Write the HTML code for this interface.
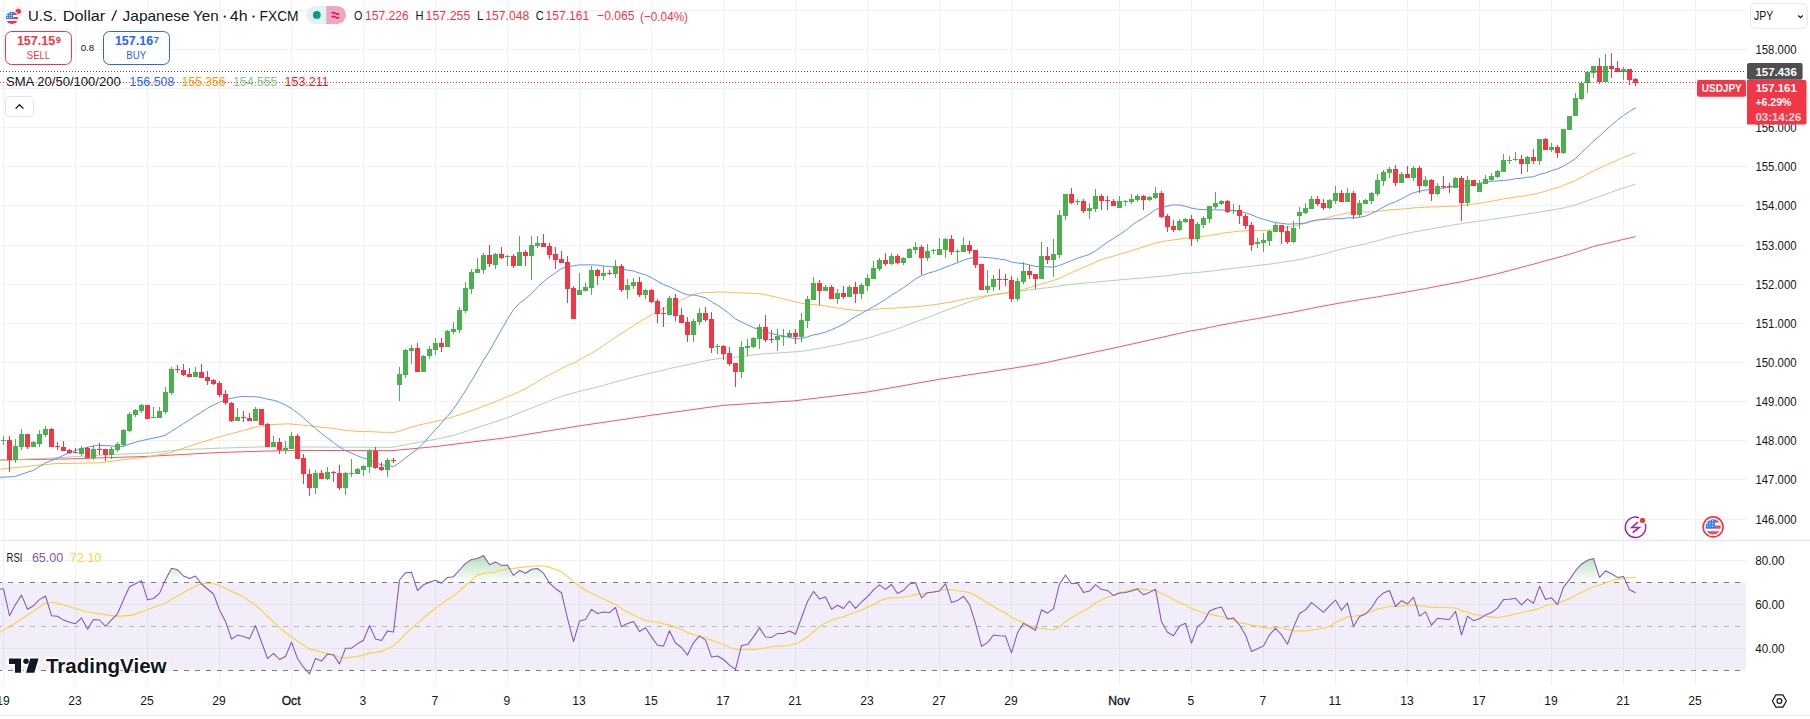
<!DOCTYPE html>
<html><head><meta charset="utf-8">
<style>
html,body{margin:0;padding:0;background:#fff;width:1810px;height:719px;overflow:hidden}
svg{position:absolute;left:0;top:0;display:block}
text{font-family:"Liberation Sans", sans-serif}
</style></head><body>
<svg width="1810" height="719" viewBox="0 0 1810 719">
<path d="M3.5 0V540M3.5 541V686M75.5 0V540M75.5 541V686M147.5 0V540M147.5 541V686M219.5 0V540M219.5 541V686M291.5 0V540M291.5 541V686M363.5 0V540M363.5 541V686M435.5 0V540M435.5 541V686M507.5 0V540M507.5 541V686M579.5 0V540M579.5 541V686M651.5 0V540M651.5 541V686M723.5 0V540M723.5 541V686M795.5 0V540M795.5 541V686M867.5 0V540M867.5 541V686M939.5 0V540M939.5 541V686M1011.5 0V540M1011.5 541V686M1119.5 0V540M1119.5 541V686M1191.5 0V540M1191.5 541V686M1263.5 0V540M1263.5 541V686M1335.5 0V540M1335.5 541V686M1407.5 0V540M1407.5 541V686M1479.5 0V540M1479.5 541V686M1551.5 0V540M1551.5 541V686M1623.5 0V540M1623.5 541V686M1695.5 0V540M1695.5 541V686M0 519.5H1746M0 479.5H1746M0 440.5H1746M0 401.5H1746M0 362.5H1746M0 323.5H1746M0 284.5H1746M0 245.5H1746M0 205.5H1746M0 166.5H1746M0 127.5H1746M0 88.5H1746M0 49.5H1746M0 10.5H1746M0 560.5H1746M0 604.5H1746M0 648.5H1746" stroke="#f1f2f3" stroke-width="1" fill="none"/>
<path d="M0 540.5H1810" stroke="#e0e3eb" stroke-width="1"/>
<path d="M0 715.5H1810" stroke="#e8e8e8" stroke-width="1"/>
<path d="M0.0 460.0 L69.6 458.9 L147.5 456.4 L219.3 452.5 L265.7 451.1 L294.5 450.4 L392.0 450.7 L435.0 446.6 L506.6 437.7 L579.9 425.8 L650.6 415.4 L722.5 405.4 L794.4 400.8 L867.3 392.0 L939.2 379.3 L1011.1 368.5 L1040.0 363.8 L1119.6 346.8 L1191.4 330.7 L1197.5 329.8 L1203.5 328.7 L1209.5 327.4 L1215.5 326.2 L1221.5 325.0 L1227.5 323.9 L1233.5 322.7 L1239.5 321.6 L1245.5 320.6 L1251.5 319.6 L1257.5 318.6 L1263.5 317.5 L1269.5 316.4 L1275.5 315.3 L1281.5 314.2 L1287.5 313.1 L1293.5 312.0 L1299.5 310.8 L1305.5 309.6 L1311.5 308.3 L1317.5 307.1 L1323.5 306.0 L1329.5 304.9 L1335.5 303.8 L1341.5 302.8 L1347.5 301.7 L1353.5 300.7 L1359.5 299.7 L1365.5 298.7 L1371.5 297.8 L1377.5 296.9 L1383.5 295.8 L1389.5 294.8 L1395.5 293.9 L1401.5 292.8 L1407.5 291.8 L1413.5 290.7 L1419.5 289.7 L1425.5 288.6 L1431.5 287.4 L1437.5 286.3 L1443.5 285.1 L1449.5 284.0 L1455.5 282.8 L1461.5 281.7 L1467.5 280.4 L1473.5 279.1 L1479.5 277.8 L1485.5 276.4 L1491.5 275.1 L1497.5 273.7 L1503.5 272.1 L1509.5 270.5 L1515.5 268.9 L1521.5 267.3 L1527.5 265.7 L1533.5 264.2 L1539.5 262.4 L1545.5 260.8 L1551.5 259.2 L1557.5 257.6 L1563.5 255.9 L1569.5 254.2 L1575.5 252.4 L1581.5 250.5 L1587.5 248.5 L1593.5 246.5 L1599.5 245.1 L1605.5 243.7 L1611.5 242.3 L1617.5 240.8 L1623.5 239.3 L1629.5 238.0 L1635.5 236.7" stroke="#f65660" stroke-width="1.0" fill="none" stroke-linejoin="round"/>
<path d="M0.0 460.1 L55.6 457.9 L111.0 454.5 L150.0 453.0 L180.0 449.8 L220.6 448.1 L261.0 446.9 L300.0 447.0 L392.0 447.3 L435.0 439.4 L453.0 435.6 L506.7 418.0 L551.7 400.0 L562.4 396.1 L578.7 391.5 L597.5 387.1 L603.5 385.4 L609.5 383.6 L615.5 381.8 L621.5 380.3 L627.5 378.7 L633.5 377.1 L639.5 375.7 L645.5 374.3 L651.5 372.9 L657.5 371.5 L663.5 370.2 L669.5 368.6 L675.5 367.2 L681.5 366.0 L687.5 364.8 L693.5 363.5 L699.5 362.1 L705.5 360.8 L711.5 359.7 L717.5 358.8 L723.5 358.0 L729.5 357.5 L735.5 357.1 L741.5 356.5 L747.5 355.8 L753.5 355.0 L759.5 354.2 L765.5 353.7 L771.5 353.4 L777.5 353.0 L783.5 352.6 L789.5 352.2 L795.5 351.8 L801.5 351.3 L807.5 350.5 L813.5 349.4 L819.5 348.4 L825.5 347.2 L831.5 346.0 L837.5 344.8 L843.5 343.6 L849.5 342.2 L855.5 341.1 L861.5 339.7 L867.5 338.0 L873.5 336.3 L879.5 334.4 L885.5 332.5 L891.5 330.7 L897.5 328.8 L903.5 326.6 L909.5 324.2 L915.5 321.9 L921.5 319.7 L927.5 317.5 L933.5 315.3 L939.5 312.9 L945.5 310.6 L951.5 308.4 L957.5 306.2 L963.5 304.0 L969.5 302.0 L975.5 299.9 L981.5 298.1 L987.5 296.4 L993.5 294.6 L999.5 293.6 L1005.5 292.9 L1011.5 292.4 L1017.5 291.5 L1023.5 290.7 L1029.5 289.9 L1035.5 289.3 L1041.5 288.4 L1047.5 287.7 L1053.5 286.9 L1059.5 286.0 L1065.5 285.0 L1071.5 284.4 L1077.5 283.7 L1083.5 283.2 L1089.5 282.7 L1095.5 282.1 L1101.5 281.5 L1107.5 281.0 L1113.5 280.4 L1119.5 279.9 L1125.5 279.3 L1131.5 278.8 L1137.5 278.4 L1143.5 277.9 L1149.5 277.3 L1155.5 276.7 L1161.5 276.2 L1167.5 275.6 L1173.5 274.7 L1179.5 274.0 L1185.5 273.3 L1191.5 273.0 L1197.5 272.5 L1203.5 271.9 L1209.5 271.3 L1215.5 270.6 L1221.5 269.7 L1227.5 269.0 L1233.5 268.3 L1239.5 267.5 L1245.5 266.9 L1251.5 266.3 L1257.5 265.6 L1263.5 264.8 L1269.5 264.2 L1275.5 263.3 L1281.5 262.3 L1287.5 261.4 L1293.5 260.5 L1299.5 259.5 L1305.5 258.4 L1311.5 256.9 L1317.5 255.5 L1323.5 254.0 L1329.5 252.4 L1335.5 250.6 L1341.5 249.1 L1347.5 247.6 L1353.5 246.4 L1359.5 245.1 L1365.5 243.7 L1371.5 242.3 L1377.5 240.7 L1383.5 239.1 L1389.5 237.4 L1395.5 235.9 L1401.5 234.4 L1407.5 233.2 L1413.5 232.0 L1419.5 231.0 L1425.5 229.9 L1431.5 228.9 L1437.5 227.8 L1443.5 226.7 L1449.5 225.7 L1455.5 224.5 L1461.5 223.7 L1467.5 222.7 L1473.5 221.9 L1479.5 221.1 L1485.5 220.3 L1491.5 219.5 L1497.5 218.6 L1503.5 217.6 L1509.5 216.7 L1515.5 215.8 L1521.5 214.9 L1527.5 213.9 L1533.5 213.1 L1539.5 212.0 L1545.5 211.1 L1551.5 210.0 L1557.5 209.0 L1563.5 207.9 L1569.5 206.5 L1575.5 204.9 L1581.5 202.8 L1587.5 200.6 L1593.5 198.5 L1599.5 196.5 L1605.5 194.4 L1611.5 192.1 L1617.5 190.0 L1623.5 188.0 L1629.5 186.0 L1635.5 184.1" stroke="#a8d6aa" stroke-width="1.0" fill="none" stroke-linejoin="round"/>
<path d="M0.0 469.2 L33.4 465.7 L55.6 463.6 L77.9 463.2 L100.0 462.8 L122.4 459.8 L147.5 457.0 L170.7 452.5 L195.0 444.3 L219.3 436.9 L243.6 430.4 L258.0 426.4 L265.7 424.9 L287.8 423.8 L297.5 424.6 L303.5 425.3 L309.5 425.8 L315.5 426.4 L321.5 427.3 L327.5 427.8 L333.5 428.4 L339.5 429.5 L345.5 430.4 L351.5 430.9 L357.5 431.3 L363.5 431.6 L369.5 431.6 L375.5 431.9 L381.5 432.3 L387.5 432.3 L393.5 432.6 L399.5 431.1 L405.5 429.0 L411.5 427.0 L417.5 425.5 L423.5 424.0 L429.5 422.7 L435.5 421.4 L441.5 420.2 L447.5 418.5 L453.5 416.7 L459.5 414.7 L465.5 412.6 L471.5 410.7 L477.5 408.6 L483.5 406.2 L489.5 404.0 L495.5 401.6 L501.5 399.2 L507.5 396.7 L513.5 394.4 L519.5 391.5 L525.5 388.6 L531.5 385.1 L537.5 381.6 L543.5 378.1 L549.5 374.8 L555.5 371.8 L561.5 368.6 L567.5 365.4 L573.5 363.0 L579.5 359.8 L585.5 356.5 L591.5 353.2 L597.5 349.6 L603.5 345.5 L609.5 341.3 L615.5 337.1 L621.5 333.3 L627.5 329.6 L633.5 325.8 L639.5 321.9 L645.5 318.3 L651.5 314.8 L657.5 311.7 L663.5 308.7 L669.5 305.7 L675.5 302.6 L681.5 299.7 L687.5 297.2 L693.5 294.4 L699.5 293.1 L705.5 292.5 L711.5 292.5 L717.5 292.0 L723.5 292.0 L729.5 292.3 L735.5 292.8 L741.5 292.8 L747.5 293.1 L753.5 293.3 L759.5 293.7 L765.5 294.7 L771.5 296.1 L777.5 297.4 L783.5 299.0 L789.5 300.4 L795.5 302.1 L801.5 303.3 L807.5 304.2 L813.5 304.5 L819.5 305.3 L825.5 305.9 L831.5 307.0 L837.5 308.0 L843.5 309.0 L849.5 309.6 L855.5 310.3 L861.5 310.8 L867.5 310.5 L873.5 309.5 L879.5 308.9 L885.5 308.5 L891.5 308.2 L897.5 307.9 L903.5 307.6 L909.5 307.1 L915.5 306.8 L921.5 306.1 L927.5 305.4 L933.5 304.8 L939.5 303.9 L945.5 302.9 L951.5 301.9 L957.5 300.6 L963.5 299.2 L969.5 298.3 L975.5 297.3 L981.5 296.6 L987.5 295.6 L993.5 294.8 L999.5 294.1 L1005.5 293.3 L1011.5 292.3 L1017.5 291.0 L1023.5 289.4 L1029.5 287.6 L1035.5 285.8 L1041.5 283.9 L1047.5 282.2 L1053.5 280.5 L1059.5 278.3 L1065.5 275.4 L1071.5 272.6 L1077.5 270.0 L1083.5 267.4 L1089.5 264.9 L1095.5 262.1 L1101.5 259.7 L1107.5 257.8 L1113.5 256.2 L1119.5 254.4 L1125.5 252.7 L1131.5 250.7 L1137.5 248.8 L1143.5 246.8 L1149.5 245.0 L1155.5 243.0 L1161.5 241.7 L1167.5 240.6 L1173.5 239.9 L1179.5 239.1 L1185.5 238.2 L1191.5 237.8 L1197.5 237.1 L1203.5 236.3 L1209.5 235.4 L1215.5 234.5 L1221.5 233.4 L1227.5 232.6 L1233.5 231.8 L1239.5 231.1 L1245.5 230.9 L1251.5 230.7 L1257.5 230.6 L1263.5 230.5 L1269.5 230.1 L1275.5 229.3 L1281.5 228.1 L1287.5 227.2 L1293.5 226.2 L1299.5 224.8 L1305.5 223.4 L1311.5 221.4 L1317.5 219.9 L1323.5 218.6 L1329.5 217.1 L1335.5 215.4 L1341.5 214.3 L1347.5 213.0 L1353.5 212.2 L1359.5 211.9 L1365.5 212.1 L1371.5 211.9 L1377.5 211.4 L1383.5 210.7 L1389.5 209.9 L1395.5 209.6 L1401.5 209.1 L1407.5 208.6 L1413.5 207.9 L1419.5 207.6 L1425.5 207.1 L1431.5 207.0 L1437.5 206.8 L1443.5 206.6 L1449.5 206.4 L1455.5 206.1 L1461.5 205.8 L1467.5 204.9 L1473.5 204.0 L1479.5 203.2 L1485.5 202.4 L1491.5 201.2 L1497.5 200.1 L1503.5 198.9 L1509.5 198.0 L1515.5 197.1 L1521.5 196.4 L1527.5 195.3 L1533.5 194.3 L1539.5 192.8 L1545.5 191.2 L1551.5 189.3 L1557.5 187.5 L1563.5 185.3 L1569.5 183.0 L1575.5 180.4 L1581.5 177.5 L1587.5 174.1 L1593.5 170.8 L1599.5 168.2 L1605.5 165.4 L1611.5 162.8 L1617.5 160.1 L1623.5 157.4 L1629.5 155.0 L1635.5 152.8" stroke="#ffb655" stroke-width="1.0" fill="none" stroke-linejoin="round"/>
<path d="M0.0 477.3 L14.5 476.6 L33.4 470.3 L44.5 463.4 L57.9 457.9 L72.3 451.4 L86.8 447.3 L97.9 445.4 L111.3 445.8 L117.5 446.8 L123.5 446.3 L129.5 444.0 L135.5 442.2 L141.5 440.7 L147.5 439.3 L153.5 438.1 L159.5 436.9 L165.5 435.1 L171.5 431.2 L177.5 427.4 L183.5 423.6 L189.5 419.8 L195.5 415.7 L201.5 412.2 L207.5 408.3 L213.5 405.0 L219.5 402.3 L225.5 399.7 L231.5 398.3 L237.5 397.0 L243.5 396.4 L249.5 396.7 L255.5 396.7 L261.5 397.7 L267.5 399.1 L273.5 400.3 L279.5 402.3 L285.5 405.1 L291.5 408.4 L297.5 412.9 L303.5 417.8 L309.5 423.4 L315.5 428.4 L321.5 433.5 L327.5 438.0 L333.5 442.5 L339.5 447.1 L345.5 450.6 L351.5 453.2 L357.5 455.8 L363.5 458.2 L369.5 459.7 L375.5 462.7 L381.5 464.9 L387.5 465.6 L393.5 466.6 L399.5 462.8 L405.5 457.8 L411.5 453.5 L417.5 449.1 L423.5 443.2 L429.5 436.2 L435.5 429.7 L441.5 423.1 L447.5 416.1 L453.5 408.9 L459.5 400.0 L465.5 390.7 L471.5 380.7 L477.5 370.7 L483.5 360.1 L489.5 350.8 L495.5 340.1 L501.5 329.5 L507.5 319.3 L513.5 309.5 L519.5 303.4 L525.5 298.7 L531.5 293.5 L537.5 287.1 L543.5 281.6 L549.5 276.9 L555.5 272.8 L561.5 268.6 L567.5 266.5 L573.5 265.9 L579.5 264.9 L585.5 264.9 L591.5 264.8 L597.5 265.1 L603.5 266.0 L609.5 266.5 L615.5 267.1 L621.5 268.7 L627.5 270.2 L633.5 271.0 L639.5 273.1 L645.5 274.9 L651.5 277.7 L657.5 281.2 L663.5 284.6 L669.5 286.8 L675.5 289.6 L681.5 292.6 L687.5 294.9 L693.5 295.0 L699.5 296.2 L705.5 297.8 L711.5 301.7 L717.5 305.2 L723.5 309.3 L729.5 313.7 L735.5 319.0 L741.5 321.9 L747.5 324.9 L753.5 327.7 L759.5 329.3 L765.5 331.8 L771.5 333.7 L777.5 334.8 L783.5 335.9 L789.5 337.6 L795.5 338.7 L801.5 338.6 L807.5 336.8 L813.5 334.9 L819.5 333.8 L825.5 332.1 L831.5 329.7 L837.5 327.1 L843.5 324.2 L849.5 320.4 L855.5 316.5 L861.5 313.4 L867.5 310.0 L873.5 306.5 L879.5 303.1 L885.5 299.3 L891.5 295.1 L897.5 291.5 L903.5 287.6 L909.5 283.4 L915.5 278.9 L921.5 275.8 L927.5 273.4 L933.5 271.7 L939.5 269.6 L945.5 267.2 L951.5 264.9 L957.5 262.8 L963.5 260.2 L969.5 258.4 L975.5 257.0 L981.5 257.2 L987.5 257.6 L993.5 258.1 L999.5 259.1 L1005.5 259.9 L1011.5 262.1 L1017.5 263.0 L1023.5 263.6 L1029.5 264.9 L1035.5 266.5 L1041.5 266.4 L1047.5 266.9 L1053.5 267.1 L1059.5 265.4 L1065.5 263.1 L1071.5 260.6 L1077.5 258.2 L1083.5 256.4 L1089.5 254.3 L1095.5 250.9 L1101.5 246.4 L1107.5 242.2 L1113.5 238.5 L1119.5 234.6 L1125.5 230.6 L1131.5 225.6 L1137.5 221.4 L1143.5 217.8 L1149.5 213.9 L1155.5 209.6 L1161.5 207.7 L1167.5 206.0 L1173.5 204.8 L1179.5 205.1 L1185.5 206.3 L1191.5 208.1 L1197.5 209.2 L1203.5 209.6 L1209.5 209.5 L1215.5 209.9 L1221.5 209.9 L1227.5 210.4 L1233.5 210.7 L1239.5 211.4 L1245.5 212.7 L1251.5 214.9 L1257.5 217.3 L1263.5 219.3 L1269.5 221.0 L1275.5 222.6 L1281.5 223.3 L1287.5 224.1 L1293.5 224.0 L1299.5 223.6 L1305.5 223.0 L1311.5 221.0 L1317.5 220.0 L1323.5 219.5 L1329.5 219.2 L1335.5 218.7 L1341.5 218.7 L1347.5 217.8 L1353.5 218.0 L1359.5 217.3 L1365.5 216.1 L1371.5 213.5 L1377.5 210.4 L1383.5 207.0 L1389.5 203.9 L1395.5 201.7 L1401.5 198.9 L1407.5 195.6 L1413.5 192.7 L1419.5 191.3 L1425.5 189.9 L1431.5 189.7 L1437.5 188.8 L1443.5 187.8 L1449.5 187.1 L1455.5 186.3 L1461.5 186.4 L1467.5 185.7 L1473.5 184.3 L1479.5 183.3 L1485.5 182.2 L1491.5 181.4 L1497.5 180.9 L1503.5 180.3 L1509.5 179.9 L1515.5 178.7 L1521.5 178.2 L1527.5 177.2 L1533.5 176.8 L1539.5 174.4 L1545.5 172.9 L1551.5 170.6 L1557.5 168.9 L1563.5 166.0 L1569.5 162.5 L1575.5 158.5 L1581.5 152.5 L1587.5 147.1 L1593.5 141.1 L1599.5 136.0 L1605.5 130.4 L1611.5 125.0 L1617.5 120.1 L1623.5 115.5 L1629.5 111.5 L1635.5 107.7" stroke="#6191f6" stroke-width="1.0" fill="none" stroke-linejoin="round"/>
<path d="M1.0 440h5v1h-5zM13.0 446h5v14h-5zM19.0 434h5v13h-5zM31.0 442h5v5h-5zM37.0 434h5v10h-5zM43.0 429h5v6h-5zM79.0 448h5v6h-5zM91.0 449h5v9h-5zM109.0 449h5v6h-5zM115.0 444h5v6h-5zM121.0 430h5v15h-5zM127.0 414h5v17h-5zM133.0 410h5v5h-5zM139.0 405h5v6h-5zM151.0 417h5v1h-5zM157.0 411h5v7h-5zM163.0 392h5v20h-5zM169.0 369h5v24h-5zM193.0 372h5v5h-5zM235.0 417h5v4h-5zM253.0 409h5v12h-5zM271.0 442h5v5h-5zM283.0 448h5v2h-5zM289.0 436h5v13h-5zM313.0 473h5v15h-5zM325.0 472h5v7h-5zM343.0 473h5v15h-5zM349.0 473h5v1h-5zM355.0 469h5v5h-5zM361.0 466h5v4h-5zM367.0 451h5v16h-5zM385.0 460h5v10h-5zM397.0 374h5v11h-5zM403.0 350h5v25h-5zM409.0 348h5v3h-5zM421.0 356h5v16h-5zM427.0 349h5v7h-5zM433.0 343h5v7h-5zM445.0 331h5v16h-5zM451.0 329h5v3h-5zM457.0 310h5v20h-5zM463.0 288h5v23h-5zM469.0 272h5v17h-5zM475.0 269h5v4h-5zM481.0 255h5v15h-5zM493.0 254h5v11h-5zM505.0 256h5v1h-5zM517.0 252h5v14h-5zM529.0 245h5v11h-5zM535.0 243h5v3h-5zM577.0 290h5v5h-5zM583.0 287h5v4h-5zM589.0 270h5v18h-5zM601.0 273h5v3h-5zM613.0 266h5v8h-5zM625.0 285h5v5h-5zM631.0 282h5v4h-5zM643.0 290h5v5h-5zM667.0 298h5v17h-5zM691.0 321h5v14h-5zM697.0 313h5v9h-5zM715.0 346h5v1h-5zM739.0 347h5v25h-5zM745.0 346h5v2h-5zM751.0 338h5v9h-5zM757.0 327h5v12h-5zM775.0 336h5v4h-5zM781.0 336h5v1h-5zM787.0 333h5v4h-5zM799.0 320h5v17h-5zM805.0 299h5v22h-5zM811.0 283h5v17h-5zM823.0 287h5v4h-5zM835.0 293h5v6h-5zM847.0 287h5v10h-5zM859.0 285h5v9h-5zM865.0 278h5v8h-5zM871.0 268h5v11h-5zM877.0 260h5v9h-5zM889.0 256h5v8h-5zM901.0 258h5v5h-5zM907.0 249h5v9h-5zM913.0 247h5v3h-5zM925.0 251h5v7h-5zM931.0 250h5v1h-5zM937.0 249h5v6h-5zM943.0 239h5v11h-5zM955.0 251h5v1h-5zM961.0 245h5v7h-5zM985.0 286h5v4h-5zM991.0 279h5v8h-5zM1015.0 281h5v18h-5zM1021.0 271h5v11h-5zM1039.0 256h5v23h-5zM1051.0 254h5v6h-5zM1057.0 215h5v40h-5zM1063.0 194h5v22h-5zM1075.0 201h5v1h-5zM1087.0 208h5v3h-5zM1093.0 196h5v13h-5zM1117.0 201h5v7h-5zM1123.0 201h5v1h-5zM1129.0 199h5v3h-5zM1135.0 196h5v4h-5zM1147.0 197h5v3h-5zM1153.0 193h5v5h-5zM1177.0 221h5v9h-5zM1183.0 219h5v3h-5zM1195.0 224h5v15h-5zM1201.0 218h5v7h-5zM1207.0 206h5v13h-5zM1213.0 203h5v4h-5zM1219.0 201h5v3h-5zM1231.0 210h5v1h-5zM1255.0 242h5v2h-5zM1261.0 240h5v3h-5zM1267.0 231h5v10h-5zM1273.0 225h5v7h-5zM1291.0 228h5v14h-5zM1297.0 212h5v4h-5zM1303.0 208h5v5h-5zM1309.0 199h5v10h-5zM1327.0 200h5v8h-5zM1333.0 193h5v8h-5zM1345.0 193h5v9h-5zM1357.0 203h5v12h-5zM1363.0 200h5v4h-5zM1369.0 193h5v8h-5zM1375.0 180h5v14h-5zM1381.0 172h5v9h-5zM1387.0 169h5v4h-5zM1399.0 174h5v9h-5zM1411.0 168h5v10h-5zM1423.0 180h5v6h-5zM1435.0 186h5v8h-5zM1453.0 178h5v10h-5zM1465.0 180h5v23h-5zM1477.0 183h5v9h-5zM1483.0 179h5v5h-5zM1489.0 176h5v4h-5zM1495.0 171h5v6h-5zM1501.0 160h5v12h-5zM1507.0 160h5v1h-5zM1513.0 159h5v1h-5zM1525.0 157h5v7h-5zM1537.0 139h5v22h-5zM1549.0 147h5v3h-5zM1561.0 129h5v24h-5zM1567.0 116h5v14h-5zM1573.0 98h5v18h-5zM1579.0 83h5v16h-5zM1585.0 72h5v11h-5zM1591.0 66h5v7h-5zM1603.0 66h5v16h-5zM1621.0 69h5v3h-5zM3.0 436h1v4h-1zM3.0 441h1v4h-1zM15.0 439h1v7h-1zM15.0 460h1v3h-1zM21.0 429h1v5h-1zM21.0 447h1v3h-1zM33.0 441h1v1h-1zM39.0 430h1v4h-1zM39.0 444h1v3h-1zM45.0 426h1v3h-1zM45.0 435h1v2h-1zM81.0 446h1v2h-1zM81.0 454h1v2h-1zM93.0 445h1v4h-1zM93.0 458h1v2h-1zM111.0 447h1v2h-1zM111.0 455h1v4h-1zM117.0 442h1v2h-1zM117.0 450h1v2h-1zM123.0 429h1v1h-1zM123.0 445h1v2h-1zM129.0 412h1v2h-1zM129.0 431h1v1h-1zM135.0 409h1v1h-1zM135.0 415h1v2h-1zM141.0 404h1v1h-1zM141.0 411h1v2h-1zM153.0 407h1v10h-1zM159.0 407h1v4h-1zM165.0 387h1v5h-1zM165.0 412h1v2h-1zM171.0 367h1v2h-1zM171.0 393h1v2h-1zM195.0 367h1v5h-1zM237.0 408h1v9h-1zM255.0 407h1v2h-1zM273.0 436h1v6h-1zM285.0 441h1v7h-1zM285.0 450h1v4h-1zM291.0 432h1v4h-1zM315.0 470h1v3h-1zM315.0 488h1v6h-1zM327.0 467h1v5h-1zM327.0 479h1v1h-1zM345.0 472h1v1h-1zM345.0 488h1v7h-1zM351.0 459h1v14h-1zM351.0 474h1v3h-1zM357.0 468h1v1h-1zM363.0 465h1v1h-1zM363.0 470h1v6h-1zM369.0 449h1v2h-1zM369.0 467h1v6h-1zM387.0 458h1v2h-1zM387.0 470h1v7h-1zM399.0 367h1v7h-1zM399.0 385h1v16h-1zM405.0 349h1v1h-1zM405.0 375h1v3h-1zM411.0 345h1v3h-1zM411.0 351h1v13h-1zM423.0 355h1v1h-1zM429.0 346h1v3h-1zM429.0 356h1v3h-1zM435.0 338h1v5h-1zM435.0 350h1v5h-1zM447.0 330h1v1h-1zM453.0 322h1v7h-1zM453.0 332h1v2h-1zM459.0 307h1v3h-1zM459.0 330h1v3h-1zM465.0 282h1v6h-1zM465.0 311h1v2h-1zM471.0 269h1v3h-1zM471.0 289h1v5h-1zM477.0 258h1v11h-1zM483.0 253h1v2h-1zM483.0 270h1v4h-1zM495.0 253h1v1h-1zM495.0 265h1v4h-1zM507.0 255h1v1h-1zM507.0 257h1v9h-1zM519.0 236h1v16h-1zM531.0 236h1v9h-1zM531.0 256h1v24h-1zM537.0 236h1v7h-1zM537.0 246h1v2h-1zM579.0 273h1v17h-1zM585.0 283h1v4h-1zM591.0 266h1v4h-1zM591.0 288h1v7h-1zM603.0 266h1v7h-1zM603.0 276h1v4h-1zM615.0 260h1v6h-1zM615.0 274h1v4h-1zM627.0 279h1v6h-1zM627.0 290h1v9h-1zM633.0 278h1v4h-1zM633.0 286h1v3h-1zM645.0 289h1v1h-1zM645.0 295h1v4h-1zM669.0 296h1v2h-1zM693.0 319h1v2h-1zM693.0 335h1v7h-1zM699.0 308h1v5h-1zM699.0 322h1v3h-1zM717.0 344h1v2h-1zM717.0 347h1v7h-1zM741.0 341h1v6h-1zM741.0 372h1v6h-1zM747.0 339h1v7h-1zM747.0 348h1v8h-1zM753.0 337h1v1h-1zM753.0 347h1v1h-1zM759.0 324h1v3h-1zM759.0 339h1v10h-1zM777.0 329h1v7h-1zM777.0 340h1v11h-1zM783.0 329h1v7h-1zM783.0 337h1v9h-1zM789.0 330h1v3h-1zM789.0 337h1v1h-1zM801.0 313h1v7h-1zM801.0 337h1v5h-1zM807.0 296h1v3h-1zM807.0 321h1v7h-1zM813.0 277h1v6h-1zM825.0 285h1v2h-1zM837.0 289h1v4h-1zM837.0 299h1v5h-1zM849.0 285h1v2h-1zM861.0 283h1v2h-1zM861.0 294h1v5h-1zM867.0 274h1v4h-1zM867.0 286h1v5h-1zM873.0 261h1v7h-1zM879.0 258h1v2h-1zM879.0 269h1v2h-1zM891.0 253h1v3h-1zM891.0 264h1v1h-1zM903.0 257h1v1h-1zM903.0 263h1v2h-1zM909.0 248h1v1h-1zM915.0 242h1v5h-1zM915.0 250h1v4h-1zM927.0 244h1v7h-1zM927.0 258h1v3h-1zM933.0 249h1v1h-1zM933.0 251h1v3h-1zM939.0 238h1v11h-1zM945.0 238h1v1h-1zM945.0 250h1v8h-1zM957.0 249h1v2h-1zM957.0 252h1v10h-1zM963.0 237h1v8h-1zM987.0 270h1v16h-1zM987.0 290h1v3h-1zM993.0 275h1v4h-1zM993.0 287h1v4h-1zM1017.0 278h1v3h-1zM1017.0 299h1v2h-1zM1023.0 262h1v9h-1zM1023.0 282h1v2h-1zM1041.0 242h1v14h-1zM1053.0 239h1v15h-1zM1053.0 260h1v17h-1zM1059.0 210h1v5h-1zM1059.0 255h1v3h-1zM1065.0 216h1v4h-1zM1077.0 199h1v2h-1zM1077.0 202h1v3h-1zM1089.0 203h1v5h-1zM1089.0 211h1v8h-1zM1095.0 189h1v7h-1zM1095.0 209h1v3h-1zM1119.0 196h1v5h-1zM1125.0 200h1v1h-1zM1125.0 202h1v4h-1zM1131.0 194h1v5h-1zM1131.0 202h1v2h-1zM1137.0 194h1v2h-1zM1137.0 200h1v2h-1zM1149.0 196h1v1h-1zM1149.0 200h1v1h-1zM1155.0 187h1v6h-1zM1155.0 198h1v1h-1zM1179.0 219h1v2h-1zM1179.0 230h1v1h-1zM1185.0 218h1v1h-1zM1185.0 222h1v1h-1zM1197.0 222h1v2h-1zM1197.0 239h1v3h-1zM1203.0 216h1v2h-1zM1203.0 225h1v3h-1zM1209.0 219h1v4h-1zM1215.0 192h1v11h-1zM1215.0 207h1v2h-1zM1221.0 200h1v1h-1zM1221.0 204h1v1h-1zM1233.0 204h1v6h-1zM1233.0 211h1v3h-1zM1257.0 238h1v4h-1zM1257.0 244h1v4h-1zM1263.0 233h1v7h-1zM1263.0 243h1v9h-1zM1269.0 230h1v1h-1zM1269.0 241h1v5h-1zM1275.0 223h1v2h-1zM1293.0 221h1v7h-1zM1293.0 242h1v1h-1zM1299.0 207h1v5h-1zM1299.0 216h1v13h-1zM1305.0 203h1v5h-1zM1305.0 213h1v1h-1zM1311.0 196h1v3h-1zM1329.0 199h1v1h-1zM1329.0 208h1v1h-1zM1335.0 186h1v7h-1zM1335.0 201h1v3h-1zM1347.0 188h1v5h-1zM1359.0 200h1v3h-1zM1359.0 215h1v2h-1zM1365.0 199h1v1h-1zM1371.0 192h1v1h-1zM1371.0 201h1v3h-1zM1377.0 174h1v6h-1zM1377.0 194h1v2h-1zM1383.0 170h1v2h-1zM1383.0 181h1v5h-1zM1389.0 167h1v2h-1zM1389.0 173h1v5h-1zM1401.0 172h1v2h-1zM1413.0 166h1v2h-1zM1413.0 178h1v3h-1zM1425.0 176h1v4h-1zM1425.0 186h1v1h-1zM1437.0 183h1v3h-1zM1437.0 194h1v1h-1zM1455.0 177h1v1h-1zM1467.0 176h1v4h-1zM1467.0 203h1v3h-1zM1479.0 180h1v3h-1zM1485.0 175h1v4h-1zM1491.0 173h1v3h-1zM1491.0 180h1v1h-1zM1497.0 170h1v1h-1zM1497.0 177h1v1h-1zM1503.0 154h1v6h-1zM1509.0 156h1v4h-1zM1509.0 161h1v3h-1zM1515.0 152h1v7h-1zM1515.0 160h1v1h-1zM1527.0 156h1v1h-1zM1527.0 164h1v8h-1zM1539.0 161h1v4h-1zM1551.0 143h1v4h-1zM1551.0 150h1v2h-1zM1563.0 153h1v1h-1zM1575.0 93h1v5h-1zM1581.0 81h1v2h-1zM1581.0 99h1v1h-1zM1587.0 71h1v1h-1zM1587.0 83h1v10h-1zM1593.0 73h1v5h-1zM1605.0 54h1v12h-1zM1623.0 67h1v2h-1zM1623.0 72h1v8h-1z" fill="#4caf50" shape-rendering="crispEdges"/>
<path d="M7.0 440h5v20h-5zM25.0 434h5v13h-5zM49.0 429h5v18h-5zM55.0 446h5v1h-5zM61.0 447h5v4h-5zM67.0 450h5v3h-5zM73.0 452h5v1h-5zM85.0 448h5v10h-5zM97.0 449h5v1h-5zM103.0 449h5v6h-5zM145.0 405h5v14h-5zM175.0 369h5v1h-5zM181.0 370h5v5h-5zM187.0 374h5v3h-5zM199.0 372h5v6h-5zM205.0 377h5v4h-5zM211.0 380h5v4h-5zM217.0 383h5v12h-5zM223.0 394h5v9h-5zM229.0 403h5v18h-5zM241.0 417h5v1h-5zM247.0 418h5v3h-5zM259.0 409h5v16h-5zM265.0 424h5v23h-5zM277.0 442h5v8h-5zM295.0 436h5v23h-5zM301.0 458h5v16h-5zM307.0 474h5v14h-5zM319.0 473h5v6h-5zM331.0 472h5v1h-5zM337.0 473h5v15h-5zM373.0 451h5v17h-5zM379.0 467h5v3h-5zM391.0 460h5v1h-5zM415.0 348h5v24h-5zM439.0 343h5v4h-5zM487.0 255h5v9h-5zM499.0 254h5v4h-5zM511.0 256h5v10h-5zM523.0 252h5v4h-5zM541.0 243h5v4h-5zM547.0 246h5v9h-5zM553.0 254h5v6h-5zM559.0 259h5v4h-5zM565.0 262h5v27h-5zM571.0 288h5v31h-5zM595.0 270h5v6h-5zM607.0 273h5v1h-5zM619.0 266h5v24h-5zM637.0 282h5v13h-5zM649.0 290h5v12h-5zM655.0 301h5v13h-5zM661.0 313h5v1h-5zM673.0 298h5v18h-5zM679.0 315h5v8h-5zM685.0 322h5v13h-5zM703.0 313h5v7h-5zM709.0 319h5v29h-5zM721.0 346h5v8h-5zM727.0 353h5v11h-5zM733.0 363h5v9h-5zM763.0 327h5v13h-5zM769.0 339h5v1h-5zM793.0 333h5v4h-5zM817.0 283h5v8h-5zM829.0 287h5v12h-5zM841.0 293h5v4h-5zM853.0 287h5v7h-5zM883.0 260h5v4h-5zM895.0 256h5v7h-5zM919.0 247h5v11h-5zM949.0 239h5v13h-5zM967.0 245h5v6h-5zM973.0 250h5v15h-5zM979.0 264h5v26h-5zM997.0 279h5v1h-5zM1003.0 279h5v1h-5zM1009.0 280h5v19h-5zM1027.0 271h5v4h-5zM1033.0 274h5v5h-5zM1045.0 256h5v4h-5zM1069.0 194h5v9h-5zM1081.0 201h5v10h-5zM1099.0 196h5v5h-5zM1105.0 200h5v1h-5zM1111.0 201h5v5h-5zM1141.0 196h5v4h-5zM1159.0 193h5v24h-5zM1165.0 216h5v11h-5zM1171.0 226h5v4h-5zM1189.0 219h5v20h-5zM1225.0 201h5v11h-5zM1237.0 210h5v6h-5zM1243.0 216h5v10h-5zM1249.0 225h5v20h-5zM1279.0 225h5v7h-5zM1285.0 231h5v11h-5zM1315.0 199h5v5h-5zM1321.0 203h5v5h-5zM1339.0 193h5v9h-5zM1351.0 193h5v22h-5zM1393.0 169h5v14h-5zM1405.0 174h5v4h-5zM1417.0 168h5v18h-5zM1429.0 180h5v14h-5zM1441.0 186h5v1h-5zM1447.0 186h5v1h-5zM1459.0 178h5v25h-5zM1471.0 180h5v6h-5zM1519.0 159h5v5h-5zM1531.0 157h5v4h-5zM1543.0 139h5v11h-5zM1555.0 147h5v6h-5zM1597.0 66h5v16h-5zM1609.0 66h5v3h-5zM1615.0 68h5v4h-5zM1627.0 69h5v11h-5zM1633.0 79h5v4h-5zM9.0 436h1v4h-1zM9.0 460h1v12h-1zM27.0 447h1v2h-1zM51.0 428h1v1h-1zM57.0 442h1v4h-1zM57.0 447h1v3h-1zM63.0 441h1v6h-1zM69.0 449h1v1h-1zM69.0 453h1v1h-1zM75.0 448h1v4h-1zM87.0 447h1v1h-1zM99.0 443h1v6h-1zM99.0 450h1v5h-1zM105.0 455h1v6h-1zM177.0 365h1v4h-1zM177.0 370h1v3h-1zM183.0 364h1v6h-1zM183.0 375h1v1h-1zM189.0 368h1v6h-1zM201.0 364h1v8h-1zM207.0 371h1v6h-1zM207.0 381h1v4h-1zM213.0 379h1v1h-1zM213.0 384h1v1h-1zM219.0 381h1v2h-1zM219.0 395h1v2h-1zM225.0 390h1v4h-1zM225.0 403h1v2h-1zM231.0 402h1v1h-1zM231.0 421h1v1h-1zM243.0 411h1v6h-1zM243.0 418h1v4h-1zM249.0 413h1v5h-1zM267.0 423h1v1h-1zM279.0 438h1v4h-1zM279.0 450h1v4h-1zM297.0 434h1v2h-1zM303.0 454h1v4h-1zM303.0 474h1v10h-1zM309.0 469h1v5h-1zM309.0 488h1v8h-1zM321.0 470h1v3h-1zM333.0 471h1v1h-1zM333.0 473h1v9h-1zM339.0 465h1v8h-1zM339.0 488h1v2h-1zM375.0 447h1v4h-1zM375.0 468h1v1h-1zM381.0 462h1v5h-1zM381.0 470h1v1h-1zM393.0 458h1v2h-1zM393.0 461h1v2h-1zM417.0 343h1v5h-1zM441.0 338h1v5h-1zM441.0 347h1v5h-1zM489.0 245h1v10h-1zM489.0 264h1v3h-1zM501.0 247h1v7h-1zM501.0 258h1v1h-1zM513.0 254h1v2h-1zM513.0 266h1v2h-1zM525.0 250h1v2h-1zM525.0 256h1v10h-1zM543.0 234h1v9h-1zM549.0 243h1v3h-1zM549.0 255h1v4h-1zM555.0 247h1v7h-1zM555.0 260h1v9h-1zM561.0 251h1v8h-1zM567.0 256h1v6h-1zM567.0 289h1v14h-1zM573.0 286h1v2h-1zM597.0 269h1v1h-1zM597.0 276h1v9h-1zM609.0 270h1v3h-1zM609.0 274h1v1h-1zM621.0 264h1v2h-1zM621.0 290h1v2h-1zM639.0 277h1v5h-1zM639.0 295h1v2h-1zM651.0 289h1v1h-1zM651.0 302h1v1h-1zM657.0 299h1v2h-1zM657.0 314h1v9h-1zM663.0 307h1v6h-1zM663.0 314h1v13h-1zM675.0 294h1v4h-1zM675.0 316h1v5h-1zM681.0 308h1v7h-1zM687.0 317h1v5h-1zM687.0 335h1v7h-1zM705.0 307h1v6h-1zM705.0 320h1v2h-1zM711.0 312h1v7h-1zM711.0 348h1v5h-1zM723.0 345h1v1h-1zM723.0 354h1v6h-1zM729.0 347h1v6h-1zM729.0 364h1v2h-1zM735.0 372h1v15h-1zM765.0 315h1v12h-1zM765.0 340h1v2h-1zM771.0 330h1v9h-1zM771.0 340h1v3h-1zM795.0 329h1v4h-1zM795.0 337h1v7h-1zM819.0 280h1v3h-1zM819.0 291h1v14h-1zM831.0 285h1v2h-1zM843.0 286h1v7h-1zM843.0 297h1v2h-1zM855.0 282h1v5h-1zM855.0 294h1v9h-1zM885.0 253h1v7h-1zM885.0 264h1v2h-1zM897.0 254h1v2h-1zM897.0 263h1v1h-1zM921.0 245h1v2h-1zM921.0 258h1v17h-1zM951.0 235h1v4h-1zM951.0 252h1v3h-1zM969.0 241h1v4h-1zM969.0 251h1v3h-1zM975.0 265h1v3h-1zM999.0 269h1v10h-1zM999.0 280h1v10h-1zM1005.0 274h1v5h-1zM1005.0 280h1v6h-1zM1011.0 276h1v4h-1zM1011.0 299h1v3h-1zM1029.0 265h1v6h-1zM1029.0 275h1v4h-1zM1035.0 279h1v10h-1zM1047.0 247h1v9h-1zM1047.0 260h1v4h-1zM1071.0 188h1v6h-1zM1071.0 203h1v1h-1zM1083.0 199h1v2h-1zM1083.0 211h1v2h-1zM1101.0 194h1v2h-1zM1101.0 201h1v9h-1zM1107.0 196h1v4h-1zM1107.0 201h1v9h-1zM1113.0 199h1v2h-1zM1143.0 195h1v1h-1zM1143.0 200h1v10h-1zM1161.0 191h1v2h-1zM1161.0 217h1v1h-1zM1167.0 214h1v2h-1zM1167.0 227h1v5h-1zM1173.0 220h1v6h-1zM1173.0 230h1v2h-1zM1191.0 215h1v4h-1zM1191.0 239h1v7h-1zM1227.0 200h1v1h-1zM1227.0 212h1v1h-1zM1239.0 205h1v5h-1zM1239.0 216h1v8h-1zM1245.0 214h1v2h-1zM1245.0 226h1v3h-1zM1251.0 222h1v3h-1zM1251.0 245h1v6h-1zM1281.0 232h1v12h-1zM1287.0 226h1v5h-1zM1287.0 242h1v2h-1zM1317.0 196h1v3h-1zM1317.0 204h1v2h-1zM1323.0 199h1v4h-1zM1323.0 208h1v2h-1zM1341.0 190h1v3h-1zM1353.0 191h1v2h-1zM1353.0 215h1v4h-1zM1395.0 165h1v4h-1zM1395.0 183h1v3h-1zM1407.0 166h1v8h-1zM1419.0 166h1v2h-1zM1419.0 186h1v7h-1zM1431.0 179h1v1h-1zM1431.0 194h1v7h-1zM1443.0 176h1v10h-1zM1443.0 187h1v2h-1zM1449.0 183h1v3h-1zM1449.0 187h1v6h-1zM1461.0 176h1v2h-1zM1461.0 203h1v18h-1zM1521.0 155h1v4h-1zM1521.0 164h1v10h-1zM1533.0 149h1v8h-1zM1533.0 161h1v3h-1zM1545.0 138h1v1h-1zM1557.0 145h1v2h-1zM1557.0 153h1v5h-1zM1599.0 58h1v8h-1zM1599.0 82h1v2h-1zM1611.0 53h1v13h-1zM1611.0 69h1v9h-1zM1617.0 61h1v7h-1zM1629.0 80h1v5h-1zM1635.0 78h1v1h-1zM1635.0 83h1v3h-1z" fill="#f23645" shape-rendering="crispEdges"/>
<path d="M0 71.5H1745" stroke="#555" stroke-width="1" stroke-dasharray="1 2" shape-rendering="crispEdges"/>
<path d="M0 82.5H1696" stroke="#f23645" stroke-width="1" stroke-dasharray="1 2" shape-rendering="crispEdges"/>
<rect x="0" y="582.4" width="1746" height="87.8" fill="#7e57c2" fill-opacity="0.1"/>
<defs>
<linearGradient id="ob" gradientUnits="userSpaceOnUse" x1="0" y1="516.5" x2="0" y2="582.4"><stop offset="0" stop-color="#4caf50" stop-opacity="1"/><stop offset="1" stop-color="#4caf50" stop-opacity="0"/></linearGradient>
<linearGradient id="os" gradientUnits="userSpaceOnUse" x1="0" y1="670.1" x2="0" y2="736.0"><stop offset="0" stop-color="#f23645" stop-opacity="0"/><stop offset="1" stop-color="#f23645" stop-opacity="1"/></linearGradient>
<clipPath id="above70"><rect x="0" y="0" width="1746" height="582.4"/></clipPath>
<clipPath id="below30"><rect x="0" y="670.1" width="1746" height="40"/></clipPath>
</defs>
<path d="M0.0 588.9 L3.5 588.9 L9.5 615.7 L15.5 604.5 L21.5 595.1 L27.5 609.2 L33.5 605.7 L39.5 599.6 L45.5 596.0 L51.5 615.7 L57.5 616.3 L63.5 620.1 L69.5 622.3 L75.5 623.7 L81.5 617.9 L87.5 629.1 L93.5 619.5 L99.5 620.0 L105.5 626.3 L111.5 619.8 L117.5 613.8 L123.5 599.8 L129.5 586.7 L135.5 583.7 L141.5 580.6 L147.5 599.8 L153.5 598.5 L159.5 593.4 L165.5 579.7 L171.5 568.2 L177.5 569.8 L183.5 576.0 L189.5 578.6 L195.5 576.0 L201.5 584.0 L207.5 589.0 L213.5 594.0 L219.5 609.9 L225.5 621.4 L231.5 639.0 L237.5 635.1 L243.5 636.4 L249.5 638.8 L255.5 625.6 L261.5 642.0 L267.5 658.6 L273.5 653.4 L279.5 659.5 L285.5 656.5 L291.5 642.1 L297.5 658.5 L303.5 667.2 L309.5 674.0 L315.5 658.4 L321.5 661.1 L327.5 654.1 L333.5 654.9 L339.5 663.9 L345.5 648.3 L351.5 648.2 L357.5 643.8 L363.5 640.3 L369.5 625.5 L375.5 638.9 L381.5 640.5 L387.5 630.9 L393.5 632.1 L399.5 580.0 L405.5 572.7 L411.5 572.2 L417.5 590.6 L423.5 584.8 L429.5 582.2 L435.5 580.3 L441.5 583.2 L447.5 577.4 L453.5 576.7 L459.5 570.0 L465.5 563.4 L471.5 559.5 L477.5 558.4 L483.5 555.6 L489.5 564.7 L495.5 561.9 L501.5 565.4 L507.5 565.1 L513.5 575.4 L519.5 570.3 L525.5 573.3 L531.5 569.2 L537.5 568.5 L543.5 573.2 L549.5 583.1 L555.5 588.7 L561.5 592.7 L567.5 618.3 L573.5 641.7 L579.5 621.1 L585.5 619.5 L591.5 609.4 L597.5 613.5 L603.5 612.1 L609.5 612.6 L615.5 607.5 L621.5 626.8 L627.5 623.5 L633.5 621.5 L639.5 631.5 L645.5 627.8 L651.5 636.9 L657.5 645.3 L663.5 646.1 L669.5 630.8 L675.5 643.0 L681.5 647.5 L687.5 655.1 L693.5 642.6 L699.5 635.9 L705.5 640.1 L711.5 656.9 L717.5 656.0 L723.5 659.5 L729.5 665.1 L735.5 669.4 L741.5 645.6 L747.5 644.6 L753.5 636.9 L759.5 627.9 L765.5 637.0 L771.5 637.4 L777.5 633.6 L783.5 633.4 L789.5 631.0 L795.5 634.3 L801.5 617.7 L807.5 601.6 L813.5 591.4 L819.5 599.0 L825.5 596.9 L831.5 609.2 L837.5 605.2 L843.5 608.5 L849.5 601.0 L855.5 608.4 L861.5 602.0 L867.5 596.7 L873.5 589.8 L879.5 584.9 L885.5 589.4 L891.5 584.5 L897.5 593.5 L903.5 590.3 L909.5 584.0 L915.5 582.8 L921.5 597.9 L927.5 592.7 L933.5 591.9 L939.5 590.9 L945.5 583.7 L951.5 602.6 L957.5 600.6 L963.5 596.3 L969.5 604.6 L975.5 623.4 L981.5 646.3 L987.5 642.6 L993.5 635.0 L999.5 635.7 L1005.5 636.1 L1011.5 652.9 L1017.5 632.8 L1023.5 623.4 L1029.5 626.7 L1035.5 630.2 L1041.5 609.8 L1047.5 613.2 L1053.5 608.7 L1059.5 584.2 L1065.5 575.0 L1071.5 583.7 L1077.5 583.0 L1083.5 592.4 L1089.5 591.1 L1095.5 584.7 L1101.5 589.6 L1107.5 590.4 L1113.5 595.6 L1119.5 593.1 L1125.5 592.5 L1131.5 591.1 L1137.5 589.1 L1143.5 594.8 L1149.5 592.4 L1155.5 589.2 L1161.5 621.8 L1167.5 632.2 L1173.5 635.7 L1179.5 626.1 L1185.5 623.3 L1191.5 643.1 L1197.5 626.6 L1203.5 621.9 L1209.5 611.1 L1215.5 608.4 L1221.5 607.1 L1227.5 619.0 L1233.5 617.9 L1239.5 625.0 L1245.5 634.9 L1251.5 651.5 L1257.5 648.8 L1263.5 645.9 L1269.5 634.8 L1275.5 628.4 L1281.5 634.7 L1287.5 644.2 L1293.5 627.4 L1299.5 613.5 L1305.5 609.9 L1311.5 602.6 L1317.5 607.4 L1323.5 612.3 L1329.5 605.9 L1335.5 600.0 L1341.5 610.2 L1347.5 603.1 L1353.5 626.6 L1359.5 616.5 L1365.5 614.0 L1371.5 607.8 L1377.5 598.3 L1383.5 592.9 L1389.5 590.5 L1395.5 606.5 L1401.5 600.7 L1407.5 604.0 L1413.5 597.2 L1419.5 616.1 L1425.5 611.9 L1431.5 625.2 L1437.5 618.3 L1443.5 618.9 L1449.5 619.5 L1455.5 611.3 L1461.5 635.0 L1467.5 616.1 L1473.5 620.7 L1479.5 618.7 L1485.5 615.1 L1491.5 612.5 L1497.5 608.1 L1503.5 599.6 L1509.5 599.3 L1515.5 598.3 L1521.5 604.8 L1527.5 599.1 L1533.5 603.3 L1539.5 586.3 L1545.5 599.5 L1551.5 597.8 L1557.5 604.6 L1563.5 587.1 L1569.5 579.6 L1575.5 570.7 L1581.5 564.2 L1587.5 560.3 L1593.5 558.5 L1599.5 577.3 L1605.5 570.8 L1611.5 573.7 L1617.5 577.4 L1623.5 576.4 L1629.5 589.7 L1635.5 592.8 L1635.5 582.4 L3.5 582.4Z" fill="url(#ob)" clip-path="url(#above70)"/>
<path d="M0.0 588.9 L3.5 588.9 L9.5 615.7 L15.5 604.5 L21.5 595.1 L27.5 609.2 L33.5 605.7 L39.5 599.6 L45.5 596.0 L51.5 615.7 L57.5 616.3 L63.5 620.1 L69.5 622.3 L75.5 623.7 L81.5 617.9 L87.5 629.1 L93.5 619.5 L99.5 620.0 L105.5 626.3 L111.5 619.8 L117.5 613.8 L123.5 599.8 L129.5 586.7 L135.5 583.7 L141.5 580.6 L147.5 599.8 L153.5 598.5 L159.5 593.4 L165.5 579.7 L171.5 568.2 L177.5 569.8 L183.5 576.0 L189.5 578.6 L195.5 576.0 L201.5 584.0 L207.5 589.0 L213.5 594.0 L219.5 609.9 L225.5 621.4 L231.5 639.0 L237.5 635.1 L243.5 636.4 L249.5 638.8 L255.5 625.6 L261.5 642.0 L267.5 658.6 L273.5 653.4 L279.5 659.5 L285.5 656.5 L291.5 642.1 L297.5 658.5 L303.5 667.2 L309.5 674.0 L315.5 658.4 L321.5 661.1 L327.5 654.1 L333.5 654.9 L339.5 663.9 L345.5 648.3 L351.5 648.2 L357.5 643.8 L363.5 640.3 L369.5 625.5 L375.5 638.9 L381.5 640.5 L387.5 630.9 L393.5 632.1 L399.5 580.0 L405.5 572.7 L411.5 572.2 L417.5 590.6 L423.5 584.8 L429.5 582.2 L435.5 580.3 L441.5 583.2 L447.5 577.4 L453.5 576.7 L459.5 570.0 L465.5 563.4 L471.5 559.5 L477.5 558.4 L483.5 555.6 L489.5 564.7 L495.5 561.9 L501.5 565.4 L507.5 565.1 L513.5 575.4 L519.5 570.3 L525.5 573.3 L531.5 569.2 L537.5 568.5 L543.5 573.2 L549.5 583.1 L555.5 588.7 L561.5 592.7 L567.5 618.3 L573.5 641.7 L579.5 621.1 L585.5 619.5 L591.5 609.4 L597.5 613.5 L603.5 612.1 L609.5 612.6 L615.5 607.5 L621.5 626.8 L627.5 623.5 L633.5 621.5 L639.5 631.5 L645.5 627.8 L651.5 636.9 L657.5 645.3 L663.5 646.1 L669.5 630.8 L675.5 643.0 L681.5 647.5 L687.5 655.1 L693.5 642.6 L699.5 635.9 L705.5 640.1 L711.5 656.9 L717.5 656.0 L723.5 659.5 L729.5 665.1 L735.5 669.4 L741.5 645.6 L747.5 644.6 L753.5 636.9 L759.5 627.9 L765.5 637.0 L771.5 637.4 L777.5 633.6 L783.5 633.4 L789.5 631.0 L795.5 634.3 L801.5 617.7 L807.5 601.6 L813.5 591.4 L819.5 599.0 L825.5 596.9 L831.5 609.2 L837.5 605.2 L843.5 608.5 L849.5 601.0 L855.5 608.4 L861.5 602.0 L867.5 596.7 L873.5 589.8 L879.5 584.9 L885.5 589.4 L891.5 584.5 L897.5 593.5 L903.5 590.3 L909.5 584.0 L915.5 582.8 L921.5 597.9 L927.5 592.7 L933.5 591.9 L939.5 590.9 L945.5 583.7 L951.5 602.6 L957.5 600.6 L963.5 596.3 L969.5 604.6 L975.5 623.4 L981.5 646.3 L987.5 642.6 L993.5 635.0 L999.5 635.7 L1005.5 636.1 L1011.5 652.9 L1017.5 632.8 L1023.5 623.4 L1029.5 626.7 L1035.5 630.2 L1041.5 609.8 L1047.5 613.2 L1053.5 608.7 L1059.5 584.2 L1065.5 575.0 L1071.5 583.7 L1077.5 583.0 L1083.5 592.4 L1089.5 591.1 L1095.5 584.7 L1101.5 589.6 L1107.5 590.4 L1113.5 595.6 L1119.5 593.1 L1125.5 592.5 L1131.5 591.1 L1137.5 589.1 L1143.5 594.8 L1149.5 592.4 L1155.5 589.2 L1161.5 621.8 L1167.5 632.2 L1173.5 635.7 L1179.5 626.1 L1185.5 623.3 L1191.5 643.1 L1197.5 626.6 L1203.5 621.9 L1209.5 611.1 L1215.5 608.4 L1221.5 607.1 L1227.5 619.0 L1233.5 617.9 L1239.5 625.0 L1245.5 634.9 L1251.5 651.5 L1257.5 648.8 L1263.5 645.9 L1269.5 634.8 L1275.5 628.4 L1281.5 634.7 L1287.5 644.2 L1293.5 627.4 L1299.5 613.5 L1305.5 609.9 L1311.5 602.6 L1317.5 607.4 L1323.5 612.3 L1329.5 605.9 L1335.5 600.0 L1341.5 610.2 L1347.5 603.1 L1353.5 626.6 L1359.5 616.5 L1365.5 614.0 L1371.5 607.8 L1377.5 598.3 L1383.5 592.9 L1389.5 590.5 L1395.5 606.5 L1401.5 600.7 L1407.5 604.0 L1413.5 597.2 L1419.5 616.1 L1425.5 611.9 L1431.5 625.2 L1437.5 618.3 L1443.5 618.9 L1449.5 619.5 L1455.5 611.3 L1461.5 635.0 L1467.5 616.1 L1473.5 620.7 L1479.5 618.7 L1485.5 615.1 L1491.5 612.5 L1497.5 608.1 L1503.5 599.6 L1509.5 599.3 L1515.5 598.3 L1521.5 604.8 L1527.5 599.1 L1533.5 603.3 L1539.5 586.3 L1545.5 599.5 L1551.5 597.8 L1557.5 604.6 L1563.5 587.1 L1569.5 579.6 L1575.5 570.7 L1581.5 564.2 L1587.5 560.3 L1593.5 558.5 L1599.5 577.3 L1605.5 570.8 L1611.5 573.7 L1617.5 577.4 L1623.5 576.4 L1629.5 589.7 L1635.5 592.8 L1635.5 670.1 L3.5 670.1Z" fill="url(#os)" clip-path="url(#below30)"/>
<path d="M0 582.5H1740M0 670.5H1740" stroke="#787b86" stroke-width="1" stroke-dasharray="5 6" stroke-dashoffset="3" shape-rendering="crispEdges"/>
<path d="M0 626.5H1740" stroke="#787b86" stroke-opacity="0.5" stroke-width="1" stroke-dasharray="5 6" stroke-dashoffset="3" shape-rendering="crispEdges"/>
<path d="M0.0 632.3 L18.8 621.0 L45.0 603.2 L54.5 602.3 L86.4 611.7 L116.4 616.4 L131.5 615.4 L165.3 603.2 L171.5 599.3 L177.5 595.7 L183.5 592.6 L189.5 589.2 L195.5 586.1 L201.5 583.9 L207.5 583.2 L213.5 583.7 L219.5 585.5 L225.5 588.5 L231.5 591.3 L237.5 593.9 L243.5 596.9 L249.5 601.2 L255.5 605.3 L261.5 610.4 L267.5 616.3 L273.5 621.7 L279.5 627.6 L285.5 632.8 L291.5 636.6 L297.5 641.2 L303.5 645.3 L309.5 649.1 L315.5 650.4 L321.5 652.3 L327.5 653.6 L333.5 654.7 L339.5 657.4 L345.5 657.9 L351.5 657.1 L357.5 656.5 L363.5 655.1 L369.5 652.9 L375.5 652.6 L381.5 651.4 L387.5 648.8 L393.5 645.8 L399.5 640.2 L405.5 633.9 L411.5 628.0 L417.5 623.4 L423.5 617.8 L429.5 613.0 L435.5 608.2 L441.5 603.9 L447.5 599.4 L453.5 595.9 L459.5 591.0 L465.5 585.5 L471.5 580.4 L477.5 575.1 L483.5 573.4 L489.5 572.8 L495.5 572.0 L501.5 570.2 L507.5 568.8 L513.5 568.4 L519.5 567.6 L525.5 566.9 L531.5 566.3 L537.5 565.8 L543.5 566.0 L549.5 567.4 L555.5 569.5 L561.5 571.9 L567.5 576.4 L573.5 581.9 L579.5 586.1 L585.5 590.0 L591.5 593.2 L597.5 595.9 L603.5 598.9 L609.5 601.7 L615.5 604.4 L621.5 608.6 L627.5 612.2 L633.5 614.9 L639.5 618.0 L645.5 620.5 L651.5 621.8 L657.5 622.1 L663.5 623.9 L669.5 624.7 L675.5 627.1 L681.5 629.5 L687.5 632.6 L693.5 634.7 L699.5 636.7 L705.5 637.7 L711.5 640.1 L717.5 642.5 L723.5 644.5 L729.5 647.2 L735.5 649.5 L741.5 649.5 L747.5 649.4 L753.5 649.9 L759.5 648.8 L765.5 648.0 L771.5 646.8 L777.5 646.1 L783.5 646.0 L789.5 645.3 L795.5 643.7 L801.5 641.0 L807.5 636.8 L813.5 631.6 L819.5 626.5 L825.5 623.0 L831.5 620.5 L837.5 618.3 L843.5 616.9 L849.5 614.3 L855.5 612.2 L861.5 610.0 L867.5 607.4 L873.5 604.4 L879.5 600.9 L885.5 598.9 L891.5 597.6 L897.5 597.8 L903.5 597.2 L909.5 596.3 L915.5 594.4 L921.5 593.9 L927.5 592.7 L933.5 592.1 L939.5 590.8 L945.5 589.5 L951.5 589.9 L957.5 590.7 L963.5 591.5 L969.5 592.6 L975.5 595.4 L981.5 599.1 L987.5 602.9 L993.5 606.5 L999.5 610.3 L1005.5 613.0 L1011.5 617.3 L1017.5 620.2 L1023.5 622.6 L1029.5 625.6 L1035.5 627.6 L1041.5 628.3 L1047.5 629.5 L1053.5 629.8 L1059.5 627.0 L1065.5 621.9 L1071.5 617.7 L1077.5 614.0 L1083.5 610.9 L1089.5 607.7 L1095.5 602.8 L1101.5 599.7 L1107.5 597.3 L1113.5 595.1 L1119.5 592.5 L1125.5 591.2 L1131.5 589.7 L1137.5 588.3 L1143.5 589.0 L1149.5 590.3 L1155.5 590.7 L1161.5 593.4 L1167.5 596.3 L1173.5 599.5 L1179.5 602.4 L1185.5 604.8 L1191.5 608.6 L1197.5 610.8 L1203.5 612.8 L1209.5 614.2 L1215.5 615.4 L1221.5 616.7 L1227.5 618.4 L1233.5 620.2 L1239.5 622.8 L1245.5 623.7 L1251.5 625.1 L1257.5 626.0 L1263.5 627.4 L1269.5 628.3 L1275.5 627.2 L1281.5 627.8 L1287.5 629.4 L1293.5 630.6 L1299.5 630.9 L1305.5 631.1 L1311.5 630.0 L1317.5 629.2 L1323.5 628.3 L1329.5 626.2 L1335.5 622.6 L1341.5 619.8 L1347.5 616.7 L1353.5 616.2 L1359.5 615.3 L1365.5 613.8 L1371.5 611.2 L1377.5 609.1 L1383.5 607.7 L1389.5 606.3 L1395.5 606.6 L1401.5 606.1 L1407.5 605.5 L1413.5 604.9 L1419.5 606.0 L1425.5 606.1 L1431.5 607.7 L1437.5 607.1 L1443.5 607.3 L1449.5 607.7 L1455.5 608.0 L1461.5 610.6 L1467.5 612.2 L1473.5 614.4 L1479.5 615.3 L1485.5 616.3 L1491.5 616.9 L1497.5 617.7 L1503.5 616.5 L1509.5 615.6 L1515.5 613.7 L1521.5 612.7 L1527.5 611.3 L1533.5 610.1 L1539.5 608.3 L1545.5 605.8 L1551.5 604.5 L1557.5 603.3 L1563.5 601.1 L1569.5 598.6 L1575.5 595.6 L1581.5 592.4 L1587.5 589.6 L1593.5 586.7 L1599.5 585.2 L1605.5 582.8 L1611.5 581.0 L1617.5 579.1 L1623.5 578.4 L1629.5 577.7 L1635.5 577.4" stroke="#f8d342" stroke-width="1.15" fill="none" stroke-linejoin="round"/>
<path d="M0.0 588.9 L3.5 588.9 L9.5 615.7 L15.5 604.5 L21.5 595.1 L27.5 609.2 L33.5 605.7 L39.5 599.6 L45.5 596.0 L51.5 615.7 L57.5 616.3 L63.5 620.1 L69.5 622.3 L75.5 623.7 L81.5 617.9 L87.5 629.1 L93.5 619.5 L99.5 620.0 L105.5 626.3 L111.5 619.8 L117.5 613.8 L123.5 599.8 L129.5 586.7 L135.5 583.7 L141.5 580.6 L147.5 599.8 L153.5 598.5 L159.5 593.4 L165.5 579.7 L171.5 568.2 L177.5 569.8 L183.5 576.0 L189.5 578.6 L195.5 576.0 L201.5 584.0 L207.5 589.0 L213.5 594.0 L219.5 609.9 L225.5 621.4 L231.5 639.0 L237.5 635.1 L243.5 636.4 L249.5 638.8 L255.5 625.6 L261.5 642.0 L267.5 658.6 L273.5 653.4 L279.5 659.5 L285.5 656.5 L291.5 642.1 L297.5 658.5 L303.5 667.2 L309.5 674.0 L315.5 658.4 L321.5 661.1 L327.5 654.1 L333.5 654.9 L339.5 663.9 L345.5 648.3 L351.5 648.2 L357.5 643.8 L363.5 640.3 L369.5 625.5 L375.5 638.9 L381.5 640.5 L387.5 630.9 L393.5 632.1 L399.5 580.0 L405.5 572.7 L411.5 572.2 L417.5 590.6 L423.5 584.8 L429.5 582.2 L435.5 580.3 L441.5 583.2 L447.5 577.4 L453.5 576.7 L459.5 570.0 L465.5 563.4 L471.5 559.5 L477.5 558.4 L483.5 555.6 L489.5 564.7 L495.5 561.9 L501.5 565.4 L507.5 565.1 L513.5 575.4 L519.5 570.3 L525.5 573.3 L531.5 569.2 L537.5 568.5 L543.5 573.2 L549.5 583.1 L555.5 588.7 L561.5 592.7 L567.5 618.3 L573.5 641.7 L579.5 621.1 L585.5 619.5 L591.5 609.4 L597.5 613.5 L603.5 612.1 L609.5 612.6 L615.5 607.5 L621.5 626.8 L627.5 623.5 L633.5 621.5 L639.5 631.5 L645.5 627.8 L651.5 636.9 L657.5 645.3 L663.5 646.1 L669.5 630.8 L675.5 643.0 L681.5 647.5 L687.5 655.1 L693.5 642.6 L699.5 635.9 L705.5 640.1 L711.5 656.9 L717.5 656.0 L723.5 659.5 L729.5 665.1 L735.5 669.4 L741.5 645.6 L747.5 644.6 L753.5 636.9 L759.5 627.9 L765.5 637.0 L771.5 637.4 L777.5 633.6 L783.5 633.4 L789.5 631.0 L795.5 634.3 L801.5 617.7 L807.5 601.6 L813.5 591.4 L819.5 599.0 L825.5 596.9 L831.5 609.2 L837.5 605.2 L843.5 608.5 L849.5 601.0 L855.5 608.4 L861.5 602.0 L867.5 596.7 L873.5 589.8 L879.5 584.9 L885.5 589.4 L891.5 584.5 L897.5 593.5 L903.5 590.3 L909.5 584.0 L915.5 582.8 L921.5 597.9 L927.5 592.7 L933.5 591.9 L939.5 590.9 L945.5 583.7 L951.5 602.6 L957.5 600.6 L963.5 596.3 L969.5 604.6 L975.5 623.4 L981.5 646.3 L987.5 642.6 L993.5 635.0 L999.5 635.7 L1005.5 636.1 L1011.5 652.9 L1017.5 632.8 L1023.5 623.4 L1029.5 626.7 L1035.5 630.2 L1041.5 609.8 L1047.5 613.2 L1053.5 608.7 L1059.5 584.2 L1065.5 575.0 L1071.5 583.7 L1077.5 583.0 L1083.5 592.4 L1089.5 591.1 L1095.5 584.7 L1101.5 589.6 L1107.5 590.4 L1113.5 595.6 L1119.5 593.1 L1125.5 592.5 L1131.5 591.1 L1137.5 589.1 L1143.5 594.8 L1149.5 592.4 L1155.5 589.2 L1161.5 621.8 L1167.5 632.2 L1173.5 635.7 L1179.5 626.1 L1185.5 623.3 L1191.5 643.1 L1197.5 626.6 L1203.5 621.9 L1209.5 611.1 L1215.5 608.4 L1221.5 607.1 L1227.5 619.0 L1233.5 617.9 L1239.5 625.0 L1245.5 634.9 L1251.5 651.5 L1257.5 648.8 L1263.5 645.9 L1269.5 634.8 L1275.5 628.4 L1281.5 634.7 L1287.5 644.2 L1293.5 627.4 L1299.5 613.5 L1305.5 609.9 L1311.5 602.6 L1317.5 607.4 L1323.5 612.3 L1329.5 605.9 L1335.5 600.0 L1341.5 610.2 L1347.5 603.1 L1353.5 626.6 L1359.5 616.5 L1365.5 614.0 L1371.5 607.8 L1377.5 598.3 L1383.5 592.9 L1389.5 590.5 L1395.5 606.5 L1401.5 600.7 L1407.5 604.0 L1413.5 597.2 L1419.5 616.1 L1425.5 611.9 L1431.5 625.2 L1437.5 618.3 L1443.5 618.9 L1449.5 619.5 L1455.5 611.3 L1461.5 635.0 L1467.5 616.1 L1473.5 620.7 L1479.5 618.7 L1485.5 615.1 L1491.5 612.5 L1497.5 608.1 L1503.5 599.6 L1509.5 599.3 L1515.5 598.3 L1521.5 604.8 L1527.5 599.1 L1533.5 603.3 L1539.5 586.3 L1545.5 599.5 L1551.5 597.8 L1557.5 604.6 L1563.5 587.1 L1569.5 579.6 L1575.5 570.7 L1581.5 564.2 L1587.5 560.3 L1593.5 558.5 L1599.5 577.3 L1605.5 570.8 L1611.5 573.7 L1617.5 577.4 L1623.5 576.4 L1629.5 589.7 L1635.5 592.8" stroke="#7e57c2" stroke-width="1.05" fill="none" stroke-linejoin="round"/>
<circle cx="18.1" cy="11.35" r="5.65" fill="#eceff6"/>
<circle cx="18.3" cy="11.35" r="2.7" fill="#f23645"/>
<circle cx="12.0" cy="17.85" r="7.2" fill="#fff"/>
<clipPath id="fl1"><circle cx="12.0" cy="17.85" r="6.15"/></clipPath>
<g clip-path="url(#fl1)"><rect x="5" y="11" width="15" height="15" fill="#fff"/><rect x="13.05" y="11" width="7" height="3.9" fill="#f23645"/><rect x="13.05" y="17" width="7" height="2.1" fill="#f23645"/><rect x="5" y="20.9" width="15" height="4" fill="#f23645"/><rect x="5" y="11" width="8.05" height="8.1" fill="#2186eb"/><path d="M7.4 13.3h.01M9.4 13.3h.01M11.5 13.3h.01M7.4 15.45h.01M9.4 15.45h.01M11.5 15.45h.01M7.4 17.4h.01M9.4 17.4h.01M11.5 17.4h.01" stroke="#fff" stroke-width="1.1" stroke-linecap="round"/></g>
<text x="27.9" y="20.9" font-size="15.0" fill="#131722" text-anchor="start" font-weight="normal" textLength="29.0" lengthAdjust="spacingAndGlyphs">U.S.</text>
<text x="62.7" y="20.9" font-size="15.0" fill="#131722" text-anchor="start" font-weight="normal" textLength="42.6" lengthAdjust="spacingAndGlyphs">Dollar</text>
<path d="M111.8 20.7L116.5 10.3" stroke="#131722" stroke-width="1.25"/>
<text x="122.6" y="20.9" font-size="15.0" fill="#131722" text-anchor="start" font-weight="normal" textLength="67.0" lengthAdjust="spacingAndGlyphs">Japanese</text>
<text x="193.0" y="20.9" font-size="15.0" fill="#131722" text-anchor="start" font-weight="normal" textLength="25.6" lengthAdjust="spacingAndGlyphs">Yen</text>
<circle cx="224.75" cy="16.6" r="1.15" fill="#131722"/>
<text x="229.8" y="20.9" font-size="15.0" fill="#131722" text-anchor="start" font-weight="normal" textLength="17.8" lengthAdjust="spacingAndGlyphs">4h</text>
<circle cx="253.55" cy="16.6" r="1.15" fill="#131722"/>
<text x="259.5" y="20.9" font-size="15.0" fill="#131722" text-anchor="start" font-weight="normal" textLength="39.1" lengthAdjust="spacingAndGlyphs">FXCM</text>
<path d="M315.3 6h10.9v17.9h-10.9a8.95 8.95 0 0 1 0-17.9z" fill="#e3f2ef"/>
<path d="M326.2 6h10.9a8.95 8.95 0 0 1 0 17.9h-10.9z" fill="#efa6c1"/>
<circle cx="316.8" cy="14.9" r="3.9" fill="#089981"/>
<path d="M331.6 13.4q1.8-1.6 3.8 0t3.8 0M331.6 17.2q1.8-1.6 3.8 0t3.8 0" stroke="#dc1a5e" stroke-width="1.6" fill="none"/>
<text x="354.0" y="20.0" font-size="13" fill="#131722" text-anchor="start" font-weight="normal" textLength="8.4" lengthAdjust="spacingAndGlyphs">O</text>
<text x="365.1" y="20.0" font-size="13" fill="#f23645" text-anchor="start" font-weight="normal" textLength="43.6" lengthAdjust="spacingAndGlyphs">157.226</text>
<text x="415.6" y="20.0" font-size="13" fill="#131722" text-anchor="start" font-weight="normal" textLength="8.0" lengthAdjust="spacingAndGlyphs">H</text>
<text x="425.6" y="20.0" font-size="13" fill="#f23645" text-anchor="start" font-weight="normal" textLength="44.7" lengthAdjust="spacingAndGlyphs">157.255</text>
<text x="477.0" y="20.0" font-size="13" fill="#131722" text-anchor="start" font-weight="normal" textLength="6.5" lengthAdjust="spacingAndGlyphs">L</text>
<text x="485.2" y="20.0" font-size="13" fill="#f23645" text-anchor="start" font-weight="normal" textLength="44.0" lengthAdjust="spacingAndGlyphs">157.048</text>
<text x="535.7" y="20.0" font-size="13" fill="#131722" text-anchor="start" font-weight="normal" textLength="8.0" lengthAdjust="spacingAndGlyphs">C</text>
<text x="545.6" y="20.0" font-size="13" fill="#f23645" text-anchor="start" font-weight="normal" textLength="43.6" lengthAdjust="spacingAndGlyphs">157.161</text>
<text x="597.1" y="20.0" font-size="13" fill="#f23645" text-anchor="start" font-weight="normal" textLength="37.3" lengthAdjust="spacingAndGlyphs">−0.065</text>
<text x="640.1" y="20.6" font-size="13" fill="#f23645" text-anchor="start" font-weight="normal" textLength="47.9" lengthAdjust="spacingAndGlyphs">(−0.04%)</text>
<rect x="5.5" y="31.5" width="66" height="33" rx="6" fill="#fff" stroke="#f23645" stroke-width="1"/>
<rect x="103.5" y="31.5" width="66" height="33" rx="6" fill="#fff" stroke="#2962ff" stroke-width="1"/>
<text x="16.9" y="44.9" font-size="12.6" fill="#f23645" text-anchor="start" font-weight="bold" textLength="38.3" lengthAdjust="spacingAndGlyphs">157.15</text>
<text x="55.7" y="42.7" font-size="9" fill="#f23645" text-anchor="start" font-weight="bold" textLength="5.2" lengthAdjust="spacingAndGlyphs">9</text>
<text x="26.8" y="58.8" font-size="11" fill="#f23645" text-anchor="start" font-weight="normal" textLength="23.4" lengthAdjust="spacingAndGlyphs">SELL</text>
<text x="114.9" y="44.9" font-size="12.6" fill="#2962ff" text-anchor="start" font-weight="bold" textLength="38.2" lengthAdjust="spacingAndGlyphs">157.16</text>
<text x="153.6" y="42.7" font-size="9" fill="#2962ff" text-anchor="start" font-weight="bold" textLength="5.5" lengthAdjust="spacingAndGlyphs">7</text>
<text x="126.3" y="58.8" font-size="11" fill="#2962ff" text-anchor="start" font-weight="normal" textLength="19.9" lengthAdjust="spacingAndGlyphs">BUY</text>
<text x="80.7" y="51.0" font-size="9.5" fill="#131722" text-anchor="start" font-weight="normal" textLength="13.6" lengthAdjust="spacingAndGlyphs">0.8</text>
<text x="6.0" y="85.7" font-size="12.3" fill="#131722" text-anchor="start" font-weight="normal" textLength="114.8" lengthAdjust="spacingAndGlyphs">SMA 20/50/100/200</text>
<text x="129.6" y="85.7" font-size="12.3" fill="#2962ff" text-anchor="start" font-weight="normal" textLength="44.7" lengthAdjust="spacingAndGlyphs">156.508</text>
<text x="181.8" y="85.7" font-size="12.3" fill="#ff9800" text-anchor="start" font-weight="normal" textLength="43.6" lengthAdjust="spacingAndGlyphs">155.356</text>
<text x="233.0" y="85.7" font-size="12.3" fill="#81c784" text-anchor="start" font-weight="normal" textLength="44.4" lengthAdjust="spacingAndGlyphs">154.555</text>
<text x="284.6" y="85.7" font-size="12.3" fill="#f7161c" text-anchor="start" font-weight="normal" textLength="44.1" lengthAdjust="spacingAndGlyphs">153.211</text>
<rect x="5.5" y="96.5" width="28" height="20" rx="3" fill="#fff" stroke="#e3e4e6" stroke-width="1"/>
<path d="M15.6 108.6l3.9-3.9 3.9 3.9" stroke="#131722" stroke-width="1.3" fill="none"/>
<rect x="1750.5" y="3.5" width="56.8" height="24.8" rx="4.5" fill="#fff" stroke="#e6e7e8" stroke-width="1"/>
<text x="1754.1" y="20.0" font-size="12.9" fill="#131722" text-anchor="start" font-weight="normal" textLength="19.3" lengthAdjust="spacingAndGlyphs">JPY</text>
<path d="M1798.3 15.6l2.25 2.1 2.25-2.1" stroke="#131722" stroke-width="1.3" fill="none"/>
<text x="1755.5" y="523.9" font-size="12.1" fill="#131722" text-anchor="start" font-weight="normal" textLength="41.0" lengthAdjust="spacingAndGlyphs">146.000</text>
<text x="1755.5" y="483.9" font-size="12.1" fill="#131722" text-anchor="start" font-weight="normal" textLength="41.0" lengthAdjust="spacingAndGlyphs">147.000</text>
<text x="1755.5" y="444.9" font-size="12.1" fill="#131722" text-anchor="start" font-weight="normal" textLength="41.0" lengthAdjust="spacingAndGlyphs">148.000</text>
<text x="1755.5" y="405.9" font-size="12.1" fill="#131722" text-anchor="start" font-weight="normal" textLength="41.0" lengthAdjust="spacingAndGlyphs">149.000</text>
<text x="1755.5" y="366.9" font-size="12.1" fill="#131722" text-anchor="start" font-weight="normal" textLength="41.0" lengthAdjust="spacingAndGlyphs">150.000</text>
<text x="1755.5" y="327.9" font-size="12.1" fill="#131722" text-anchor="start" font-weight="normal" textLength="41.0" lengthAdjust="spacingAndGlyphs">151.000</text>
<text x="1755.5" y="288.9" font-size="12.1" fill="#131722" text-anchor="start" font-weight="normal" textLength="41.0" lengthAdjust="spacingAndGlyphs">152.000</text>
<text x="1755.5" y="249.9" font-size="12.1" fill="#131722" text-anchor="start" font-weight="normal" textLength="41.0" lengthAdjust="spacingAndGlyphs">153.000</text>
<text x="1755.5" y="209.9" font-size="12.1" fill="#131722" text-anchor="start" font-weight="normal" textLength="41.0" lengthAdjust="spacingAndGlyphs">154.000</text>
<text x="1755.5" y="170.9" font-size="12.1" fill="#131722" text-anchor="start" font-weight="normal" textLength="41.0" lengthAdjust="spacingAndGlyphs">155.000</text>
<text x="1755.5" y="131.9" font-size="12.1" fill="#131722" text-anchor="start" font-weight="normal" textLength="41.0" lengthAdjust="spacingAndGlyphs">156.000</text>
<text x="1755.5" y="53.9" font-size="12.1" fill="#131722" text-anchor="start" font-weight="normal" textLength="41.0" lengthAdjust="spacingAndGlyphs">158.000</text>
<rect x="1747" y="63" width="55.6" height="16.8" rx="2" fill="#4f4f4f"/>
<text x="1755.4" y="75.6" font-size="11.6" fill="#fff" text-anchor="start" font-weight="bold" textLength="41.4" lengthAdjust="spacingAndGlyphs">157.436</text>
<path d="M1747 80h57.5a2 2 0 0 1 2 2v40.6a2 2 0 0 1-2 2h-57.5z" fill="#f23645"/>
<text x="1755.4" y="92.4" font-size="11.6" fill="#fff" text-anchor="start" font-weight="bold" textLength="41.4" lengthAdjust="spacingAndGlyphs">157.161</text>
<text x="1755.4" y="106.4" font-size="11.6" fill="#fff" text-anchor="start" font-weight="bold" textLength="36.1" lengthAdjust="spacingAndGlyphs">+6.29%</text>
<text x="1755.4" y="120.5" font-size="11.6" fill="#fff" text-anchor="start" font-weight="bold" textLength="45.9" lengthAdjust="spacingAndGlyphs" fill-opacity="0.8">03:14:26</text>
<rect x="1697" y="80" width="49" height="16.8" rx="2" fill="#f23645"/>
<text x="1701.8" y="92.4" font-size="11.6" fill="#fff" text-anchor="start" font-weight="bold" textLength="39.9" lengthAdjust="spacingAndGlyphs">USDJPY</text>
<path d="M1645.08 523.81A10.2 10.2 0 1 1 1638.99 517.71" stroke="#9c27b0" stroke-width="1.5" fill="none"/>
<circle cx="1642.5" cy="520.4" r="2.6" fill="#f23645"/>
<path d="M1637.9 522.2l-6 5.3h7.4l-6.6 5.2" stroke="#9c27b0" stroke-width="1.6" fill="none" stroke-linejoin="miter"/>
<circle cx="1713.1" cy="526.9" r="10" fill="#fff" stroke="#f23645" stroke-width="1.6"/>
<clipPath id="fl2"><circle cx="1713.1" cy="526.9" r="7.6"/></clipPath>
<g clip-path="url(#fl2)"><rect x="1703" y="517" width="22" height="20" fill="#fff"/><rect x="1715" y="517" width="10" height="5.6" fill="#f23645" fill-opacity="0.9"/><rect x="1715" y="525.5" width="10" height="3.2" fill="#f23645" fill-opacity="0.9"/><rect x="1703" y="531.2" width="22" height="5" fill="#f23645" fill-opacity="0.9"/><rect x="1703" y="517" width="12" height="11.7" fill="#2186eb"/><path d="M1707.3 520.9h.01M1710 520.9h.01M1712.7 520.9h.01M1707.3 523.5h.01M1710 523.5h.01M1712.7 523.5h.01M1707.3 526.1h.01M1710 526.1h.01M1712.7 526.1h.01" stroke="#fff" stroke-width="1.3" stroke-linecap="round"/></g>
<text x="6.6" y="562.3" font-size="12.5" fill="#131722" text-anchor="start" font-weight="normal" textLength="15.9" lengthAdjust="spacingAndGlyphs">RSI</text>
<text x="31.9" y="562.3" font-size="12.5" fill="#7e57c2" text-anchor="start" font-weight="normal" textLength="31.4" lengthAdjust="spacingAndGlyphs">65.00</text>
<text x="69.9" y="562.3" font-size="12.5" fill="#f8d342" text-anchor="start" font-weight="normal" textLength="31.5" lengthAdjust="spacingAndGlyphs">72.10</text>
<text x="1755.2" y="565.1" font-size="12.1" fill="#131722" text-anchor="start" font-weight="normal" textLength="29.2" lengthAdjust="spacingAndGlyphs">80.00</text>
<text x="1755.2" y="609.1" font-size="12.1" fill="#131722" text-anchor="start" font-weight="normal" textLength="29.2" lengthAdjust="spacingAndGlyphs">60.00</text>
<text x="1755.2" y="653.2" font-size="12.1" fill="#131722" text-anchor="start" font-weight="normal" textLength="29.2" lengthAdjust="spacingAndGlyphs">40.00</text>
<g fill="#fff" stroke="#fff" stroke-width="3.5" stroke-linejoin="round"><path d="M8.95 658.45h12.13v14.22h-6.16v-8.75h-5.97z"/><circle cx="26.05" cy="661.14" r="2.75"/><path d="M30.3 658.45h8.3l-4.3 14.22h-8.25z"/><text x="45.9" y="672.7" font-size="20.3" font-weight="bold" textLength="120.7" lengthAdjust="spacingAndGlyphs">TradingView</text></g>
<g fill="#131722"><path d="M8.95 658.45h12.13v14.22h-6.16v-8.75h-5.97z"/><circle cx="26.05" cy="661.14" r="2.75"/><path d="M30.3 658.45h8.3l-4.3 14.22h-8.25z"/><text x="45.9" y="672.7" font-size="20.3" font-weight="bold" textLength="120.7" lengthAdjust="spacingAndGlyphs">TradingView</text></g>
<text x="2.9" y="704.6" font-size="12.1" fill="#131722" text-anchor="middle" font-weight="normal">19</text>
<text x="74.9" y="704.6" font-size="12.1" fill="#131722" text-anchor="middle" font-weight="normal">23</text>
<text x="146.9" y="704.6" font-size="12.1" fill="#131722" text-anchor="middle" font-weight="normal">25</text>
<text x="218.9" y="704.6" font-size="12.1" fill="#131722" text-anchor="middle" font-weight="normal">29</text>
<text x="291.1" y="704.6" font-size="12.1" fill="#131722" text-anchor="middle" font-weight="normal" stroke="#131722" stroke-width="0.35">Oct</text>
<text x="362.9" y="704.6" font-size="12.1" fill="#131722" text-anchor="middle" font-weight="normal">3</text>
<text x="434.9" y="704.6" font-size="12.1" fill="#131722" text-anchor="middle" font-weight="normal">7</text>
<text x="506.9" y="704.6" font-size="12.1" fill="#131722" text-anchor="middle" font-weight="normal">9</text>
<text x="578.9" y="704.6" font-size="12.1" fill="#131722" text-anchor="middle" font-weight="normal">13</text>
<text x="650.9" y="704.6" font-size="12.1" fill="#131722" text-anchor="middle" font-weight="normal">15</text>
<text x="722.9" y="704.6" font-size="12.1" fill="#131722" text-anchor="middle" font-weight="normal">17</text>
<text x="794.9" y="704.6" font-size="12.1" fill="#131722" text-anchor="middle" font-weight="normal">21</text>
<text x="866.9" y="704.6" font-size="12.1" fill="#131722" text-anchor="middle" font-weight="normal">23</text>
<text x="938.9" y="704.6" font-size="12.1" fill="#131722" text-anchor="middle" font-weight="normal">27</text>
<text x="1010.9" y="704.6" font-size="12.1" fill="#131722" text-anchor="middle" font-weight="normal">29</text>
<text x="1119.1" y="704.6" font-size="12.1" fill="#131722" text-anchor="middle" font-weight="normal" stroke="#131722" stroke-width="0.35">Nov</text>
<text x="1190.9" y="704.6" font-size="12.1" fill="#131722" text-anchor="middle" font-weight="normal">5</text>
<text x="1262.9" y="704.6" font-size="12.1" fill="#131722" text-anchor="middle" font-weight="normal">7</text>
<text x="1334.9" y="704.6" font-size="12.1" fill="#131722" text-anchor="middle" font-weight="normal">11</text>
<text x="1406.9" y="704.6" font-size="12.1" fill="#131722" text-anchor="middle" font-weight="normal">13</text>
<text x="1478.9" y="704.6" font-size="12.1" fill="#131722" text-anchor="middle" font-weight="normal">17</text>
<text x="1550.9" y="704.6" font-size="12.1" fill="#131722" text-anchor="middle" font-weight="normal">19</text>
<text x="1622.9" y="704.6" font-size="12.1" fill="#131722" text-anchor="middle" font-weight="normal">21</text>
<text x="1694.9" y="704.6" font-size="12.1" fill="#131722" text-anchor="middle" font-weight="normal">25</text>
<path d="M1772.4 701l3.5-6.1h7l3.5 6.1-3.5 6.1h-7z" stroke="#131722" stroke-width="1.2" fill="none" stroke-linejoin="round"/>
<circle cx="1779.4" cy="701" r="2.4" stroke="#131722" stroke-width="1.2" fill="none"/>
</svg>
</body></html>
